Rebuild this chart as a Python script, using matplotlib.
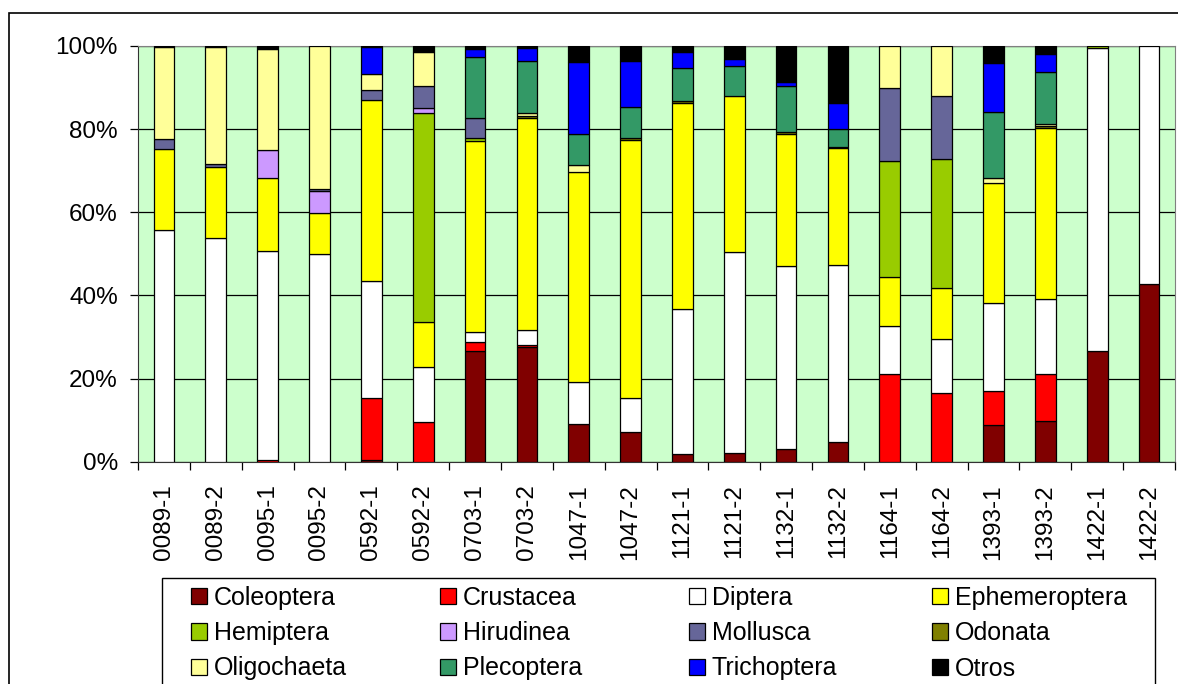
import numpy as np
import matplotlib.pyplot as plt
from matplotlib.patches import Patch, Rectangle

plt.rcParams['font.family'] = ['Liberation Sans', 'DejaVu Sans']

samples = ["0089-1", "0089-2", "0095-1", "0095-2", "0592-1", "0592-2", "0703-1", "0703-2",
           "1047-1", "1047-2", "1121-1", "1121-2", "1132-1", "1132-2", "1164-1", "1164-2",
           "1393-1", "1393-2", "1422-1", "1422-2"]

coleoptera    = [0, 0, 0, 0, 0.3, 0, 26.7, 27.6, 9.1, 7.2, 1.8, 2.2, 3.0, 4.8, 0, 0, 8.8, 9.7, 26.7, 42.8]
crustacea     = [0, 0, 0.5, 0, 15.0, 9.6, 2.2, 0.4, 0, 0, 0, 0, 0, 0, 21.2, 16.5, 8.3, 11.3, 0, 0]
diptera       = [55.7, 53.7, 50.2, 50.0, 28.2, 13.1, 2.2, 3.7, 10.0, 8.2, 34.9, 48.2, 44.0, 42.5, 11.5, 13.1, 21.1, 18.1, 72.7, 57.2]
ephemeroptera = [19.6, 17.1, 17.6, 9.8, 43.6, 10.8, 46.0, 50.9, 50.7, 61.9, 49.6, 37.5, 31.8, 28.1, 11.7, 12.1, 28.9, 41.2, 0, 0]
hemiptera     = [0, 0, 0, 0, 0, 50.3, 0.7, 0, 0, 0, 0, 0, 0, 0, 28.0, 31.1, 0, 0, 0.6, 0]
hirudinea     = [0, 0, 6.6, 5.3, 0, 1.4, 0, 0, 0, 0, 0, 0, 0, 0, 0, 0, 0, 0, 0, 0]
mollusca      = [2.4, 0.9, 0, 0.4, 2.3, 5.1, 4.9, 0, 0, 0, 0, 0, 0, 0, 17.6, 15.1, 0, 0, 0, 0]
odonata       = [0, 0, 0, 0, 0, 0, 0, 0.6, 0, 0.6, 0.4, 0, 0.4, 0.4, 0, 0, 0, 0.4, 0, 0]
oligochaeta   = [22.0, 28.0, 24.4, 34.5, 3.8, 8.3, 0, 0.8, 1.6, 0, 0, 0, 0, 0, 10.0, 12.1, 1.2, 0.5, 0, 0]
plecoptera    = [0, 0, 0, 0, 0, 0, 14.7, 12.5, 7.4, 7.5, 7.9, 7.3, 11.1, 4.3, 0, 0, 15.8, 12.5, 0, 0]
trichoptera   = [0, 0, 0, 0, 6.5, 0, 1.8, 3.1, 17.3, 11.1, 4.0, 1.6, 1.1, 6.1, 0, 0, 11.7, 4.3, 0, 0]
otros         = [0.3, 0.3, 0.7, 0, 0.3, 1.4, 0.8, 0.4, 3.9, 3.5, 1.4, 3.2, 8.6, 13.8, 0, 0, 4.2, 2.0, 0, 0]

names = ["Coleoptera", "Crustacea", "Diptera", "Ephemeroptera", "Hemiptera", "Hirudinea",
         "Mollusca", "Odonata", "Oligochaeta", "Plecoptera", "Trichoptera", "Otros"]
series = [coleoptera, crustacea, diptera, ephemeroptera, hemiptera, hirudinea,
          mollusca, odonata, oligochaeta, plecoptera, trichoptera, otros]
colors = ["#800000", "#FF0000", "#FFFFFF", "#FFFF00", "#99CC00", "#CC99FF",
          "#666699", "#808000", "#FFFF99", "#339966", "#0000FF", "#000000"]

W, H = 1178, 684
fig = plt.figure(figsize=(W / 100, H / 100), dpi=100)
ax = fig.add_axes([138 / W, 1 - 461.7 / H, (1175 - 138) / W, (461.7 - 46) / H])
ax.set_facecolor("#CCFFCC")

data = np.array(series, dtype=float)
data = data / data.sum(axis=0) * 100
x = np.arange(len(samples))
bottom = np.zeros(len(samples))
for vals, name, c in zip(data, names, colors):
    lw = [0.9 if v > 0 else 0 for v in vals]
    ax.bar(x, vals, 0.4, bottom=bottom, color=c, edgecolor="black", linewidth=lw,
           label=name, zorder=3)
    bottom += vals

ax.set_xlim(-0.5, len(samples) - 0.5)
ax.set_ylim(0, 100)
ax.set_yticks([0, 20, 40, 60, 80, 100])
ax.set_yticklabels(["0%", "20%", "40%", "60%", "80%", "100%"], fontsize=17.5)
ax.yaxis.grid(True, color="black", linewidth=0.9, zorder=1)
ax.set_axisbelow(True)

ax.set_xticks(np.arange(len(samples) + 1) - 0.5)
ax.set_xticklabels([])
ax.set_xticks(x, minor=True)
ax.set_xticklabels(samples, minor=True, rotation=90, fontsize=17.5)
ax.tick_params(axis="x", which="minor", length=0, pad=16.5)
ax.tick_params(axis="x", which="major", length=5.5, width=0.9, direction="out")
ax.tick_params(axis="y", length=5.5, width=0.9, direction="out", pad=9)

for s in ["top", "right"]:
    ax.spines[s].set_color("#808080")
for s in ["left", "bottom"]:
    ax.spines[s].set_color("#333333")

# outer chart frame and legend frame
fig.add_artist(Rectangle((9.3 / W, -0.1), 1.2, 1 - 12.7 / H + 0.1, transform=fig.transFigure,
                         fill=False, edgecolor="black", linewidth=1.2))
fig.add_artist(Rectangle((162 / W, -0.1), (1155 - 162) / W, 1 - 578 / H + 0.1,
                         transform=fig.transFigure, fill=False, edgecolor="black", linewidth=1.0))

handles = [Patch(facecolor=c, edgecolor="black", linewidth=0.9) for c in colors]
col_x = [191, 440, 689, 932]
for j in range(4):
    idx = [j, j + 4, j + 8]
    fig.legend([handles[i] for i in idx], [names[i] for i in idx], loc="upper left",
               bbox_to_anchor=(col_x[j] / W, 1 - 586 / H), frameon=False, fontsize=18,
               borderpad=0, borderaxespad=0, handlelength=0.62, handleheight=0.62,
               handletextpad=0.3, labelspacing=0.45)

fig.savefig("out.png", dpi=100)
